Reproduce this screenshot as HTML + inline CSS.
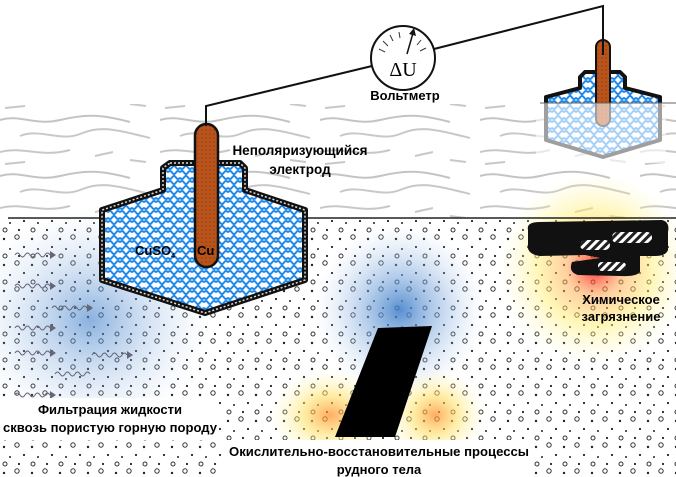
<!DOCTYPE html>
<html><head><meta charset="utf-8"><style>
html,body{margin:0;padding:0;background:#fff;}
svg{display:block;}
text{font-family:"Liberation Sans",sans-serif;font-weight:bold;}
</style></head><body>
<svg width="676" height="477" viewBox="0 0 676 477" xmlns="http://www.w3.org/2000/svg">
<defs>
<pattern id="wood" width="160" height="56" patternUnits="userSpaceOnUse">
<path d="M0 8 C20 2 35 14 60 8 S100 2 130 10" fill="none" stroke="#c4c4c4" stroke-width="2"/>
<path d="M20 24 C40 16 60 30 80 22 S110 16 150 26" fill="none" stroke="#c8c8c8" stroke-width="2"/>
<path d="M0 40 C25 34 40 46 70 38" fill="none" stroke="#c8c8c8" stroke-width="2"/>
<path d="M95 44 l18 -4 M130 48 l16 2 M5 52 l20 -2" stroke="#c8c8c8" stroke-width="2"/>
</pattern>
<pattern id="dots" width="28" height="26" patternUnits="userSpaceOnUse">
<circle cx="4" cy="5" r="1.2" fill="#222"/><circle cx="17" cy="3" r="2.2" fill="none" stroke="#333" stroke-width="1"/>
<circle cx="24" cy="13" r="1.1" fill="#222"/><circle cx="10" cy="15" r="1" fill="#222"/>
<circle cx="5" cy="22" r="2" fill="none" stroke="#333" stroke-width="1"/><circle cx="19" cy="22" r="1.1" fill="#222"/>
</pattern>
<pattern id="blue" width="12" height="10" patternUnits="userSpaceOnUse">
<rect width="12" height="10" fill="#fff"/>
<path d="M0 2.5 q2 -3 4 0 t4 0 t4 0 M0 7.5 q2 3 4 0 t4 0 t4 0 M5 5 l2 0" fill="none" stroke="#1e88ea" stroke-width="2"/>
</pattern>
<pattern id="cu" width="4" height="4" patternUnits="userSpaceOnUse">
<rect width="4" height="4" fill="#b8531c"/><circle cx="2" cy="2" r="0.7" fill="#8a3a10"/>
</pattern>
<pattern id="hatch" width="6" height="6" patternUnits="userSpaceOnUse" patternTransform="rotate(45)">
<rect width="6" height="6" fill="#fff"/><rect width="3" height="6" fill="#222"/>
</pattern>
<radialGradient id="gb"><stop offset="0" stop-color="#3a7cc8" stop-opacity="0.85"/><stop offset="0.5" stop-color="#7fa9dc" stop-opacity="0.45"/><stop offset="1" stop-color="#bcd3ef" stop-opacity="0"/></radialGradient>
<radialGradient id="gh"><stop offset="0" stop-color="#ff0010" stop-opacity="0.8"/><stop offset="0.3" stop-color="#ffa040" stop-opacity="0.5"/><stop offset="0.6" stop-color="#ffee70" stop-opacity="0.5"/><stop offset="1" stop-color="#fff8b0" stop-opacity="0"/></radialGradient>
<radialGradient id="gy"><stop offset="0" stop-color="#ff8a20" stop-opacity="0.7"/><stop offset="0.45" stop-color="#ffe060" stop-opacity="0.55"/><stop offset="1" stop-color="#fff8b0" stop-opacity="0"/></radialGradient>
</defs>
<rect x="0" y="104" width="676" height="114" fill="url(#wood)"/>
<rect x="0" y="218" width="676" height="259" fill="url(#dots)"/>
<ellipse cx="90" cy="320" rx="120" ry="110" fill="url(#gb)" opacity="0.7"/>
<ellipse cx="400" cy="310" rx="85" ry="85" fill="url(#gb)"/>
<ellipse cx="595" cy="268" rx="95" ry="95" fill="url(#gh)"/>
<ellipse cx="330" cy="415" rx="60" ry="45" fill="url(#gy)"/>
<ellipse cx="435" cy="415" rx="50" ry="45" fill="url(#gy)"/>
<g fill="none" stroke="#667" stroke-width="1">
<path d="M15 255 q2.5 -4 5 0 t5 0 t5 0 t5 0 t5 0 t5 0 t5 0"/><path d="M15 286 q2.5 -4 5 0 t5 0 t5 0 t5 0 t5 0 t5 0 t5 0"/>
<path d="M52 308 q2.5 -4 5 0 t5 0 t5 0 t5 0 t5 0 t5 0 t5 0"/><path d="M15 328 q2.5 -4 5 0 t5 0 t5 0 t5 0 t5 0 t5 0 t5 0"/>
<path d="M15 353 q2.5 -4 5 0 t5 0 t5 0 t5 0 t5 0 t5 0 t5 0"/><path d="M92 355 q2.5 -4 5 0 t5 0 t5 0 t5 0 t5 0 t5 0 t5 0"/>
<path d="M55 374 q2.5 -4 5 0 t5 0 t5 0 t5 0 t5 0 t5 0 t5 0"/><path d="M15 395 q2.5 -4 5 0 t5 0 t5 0 t5 0 t5 0 t5 0 t5 0"/>
</g>
<g fill="#667"><path d="M50 251 l6 4 -6 4z"/><path d="M50 282 l6 4 -6 4z"/><path d="M87 304 l6 4 -6 4z"/><path d="M50 324 l6 4 -6 4z"/><path d="M50 349 l6 4 -6 4z"/><path d="M127 351 l6 4 -6 4z"/><path d="M50 391 l6 4 -6 4z"/></g>
<line x1="8" y1="218" x2="676" y2="218" stroke="#222" stroke-width="1.5"/>
<path d="M378 328 L432 326 L395 437 L335 437 Z" fill="#000"/>
<path d="M528 230 Q526 222 540 222 L662 220 Q670 222 668 232 L668 250 Q666 256 655 256 L640 256 L640 272 Q636 277 620 276 L578 275 Q568 272 572 262 L600 258 L585 255 L540 256 Q526 254 528 244 Z" fill="#111"/>
<rect x="580" y="240" width="30" height="10" rx="5" fill="url(#hatch)"/>
<rect x="612" y="232" width="40" height="11" rx="5" fill="url(#hatch)"/>
<rect x="598" y="262" width="28" height="9" rx="4" fill="url(#hatch)"/>
<path d="M170 163 L240 163 L245 168 L245 190 L305 210 L305 280 L205 313 L102 280 L102 210 L163 190 L163 168 Z" fill="url(#blue)" stroke="#111" stroke-width="6" stroke-linejoin="round"/>
<path d="M170 163 L240 163 L245 168 L245 190 L305 210 L305 280 L205 313 L102 280 L102 210 L163 190 L163 168 Z" fill="none" stroke="#ddd" stroke-width="1.5" stroke-dasharray="2 2"/>
<rect x="195" y="124" width="23" height="143" rx="11.5" fill="url(#cu)" stroke="#111" stroke-width="2.5"/>
<text x="135" y="255" font-size="13">CuSO<tspan font-size="7" dy="3">4</tspan></text>
<text x="197" y="255" font-size="13">Cu</text>
<g>
<path d="M585 72 L620 72 L625 77 L625 88 L660 97 L660 140 L603 157 L546 140 L546 97 L580 88 L580 77 Z" fill="url(#blue)" stroke="#111" stroke-width="4" stroke-linejoin="round"/>
<rect x="596" y="40" width="14" height="86" rx="7" fill="url(#cu)" stroke="#111" stroke-width="2"/>
<rect x="536" y="103" width="130" height="60" fill="#fff" opacity="0.6"/>
<line x1="540" y1="103" x2="676" y2="103" stroke="#666" stroke-width="1"/>
</g>
<polyline points="206,126 206,106 372,66" fill="none" stroke="#111" stroke-width="2"/>
<polyline points="434,49 603,6 603,55" fill="none" stroke="#111" stroke-width="2"/>
<circle cx="403" cy="58" r="32" fill="#fff" stroke="#111" stroke-width="2"/>
<g stroke="#333" stroke-width="1"><line x1="379" y1="49" x2="385" y2="52"/><line x1="383" y1="41" x2="388" y2="46"/><line x1="390" y1="35" x2="393" y2="41"/><line x1="399" y1="32" x2="400" y2="38"/><line x1="421" y1="40" x2="417" y2="45"/><line x1="426" y1="48" x2="420" y2="51"/></g>
<line x1="407" y1="54" x2="413" y2="33" stroke="#111" stroke-width="1.5"/><path d="M409 34 l5 -6 2 8z" fill="#111"/>
<text x="403" y="76" font-size="20" text-anchor="middle" style="font-family:'Liberation Serif',serif;font-weight:normal">ΔU</text>
<text x="405" y="100" font-size="13" text-anchor="middle">Вольтметр</text>
<text x="300" y="155" font-size="13.5" text-anchor="middle">Неполяризующийся</text>
<text x="300" y="174" font-size="13.5" text-anchor="middle">электрод</text>
<text x="621" y="304" font-size="13" text-anchor="middle">Химическое</text>
<text x="621" y="321" font-size="13" text-anchor="middle">загрязнение</text>
<rect x="0" y="398" width="218" height="42" fill="#fff"/>
<text x="110" y="414" font-size="13" text-anchor="middle">Фильтрация жидкости</text>
<text x="110" y="432" font-size="13" text-anchor="middle" textLength="214" lengthAdjust="spacingAndGlyphs">сквозь пористую горную породу</text>
<rect x="226" y="440" width="306" height="37" fill="#fff"/>
<text x="379" y="456" font-size="13" text-anchor="middle" textLength="300" lengthAdjust="spacingAndGlyphs">Окислительно-восстановительные процессы</text>
<text x="379" y="474" font-size="13" text-anchor="middle">рудного тела</text>
</svg>
</body></html>
